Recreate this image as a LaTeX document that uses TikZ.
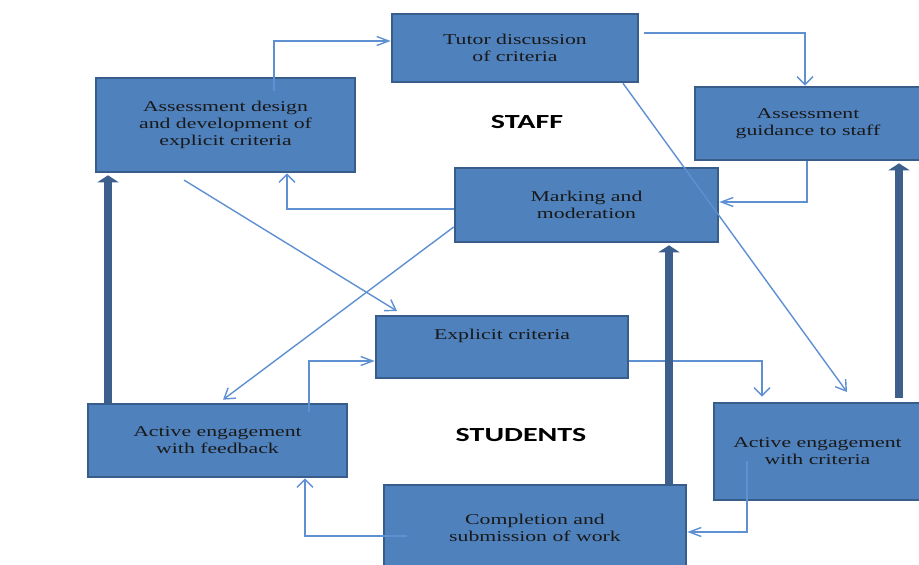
\documentclass[tikz,border=0pt]{standalone}
\usepackage{fontspec}
\setmainfont{Liberation Serif}[FakeStretch=1.45]
\newfontfamily\labfont{Carlito}[FakeStretch=1.5]
\usetikzlibrary{arrows.meta}
\definecolor{boxfill}{HTML}{4F81BD}
\definecolor{boxline}{HTML}{385D8A}
\definecolor{connc}{HTML}{5E90D2}
\definecolor{thickc}{HTML}{3C5F8C}
\tikzset{
  box/.style={draw=boxline, line width=2.6pt, fill=boxfill, inner sep=0pt,
    align=center, font=\fontsize{15}{17}\selectfont, text=black!90},
  conn/.style={draw=connc, line width=1.4pt},
  ha/.style={-{Straight Barb[length=12pt,width=9pt,line width=1.4pt]}},
  va/.style={-{Straight Barb[length=8pt,width=16pt,line width=1.4pt]}},
  da/.style={-{Straight Barb[length=10pt,width=13pt,line width=1.4pt]}},
  thickarr/.style={draw=thickc, line width=8pt, -{Triangle[length=7pt,width=21pt]}, shorten >=2pt},
  grouplabel/.style={font=\labfont\bfseries\fontsize{20}{22}\selectfont, text=black}
}
\begin{document}
\begin{tikzpicture}[x=1pt,y=-1pt]
\useasboundingbox (0,0) rectangle (919,565);
\fill[white] (0,0) rectangle (919,565);

\node[box, minimum width=246pt, minimum height=68pt] (tutor) at (515,48)
  {Tutor discussion\\of criteria};
\node[box, minimum width=259pt, minimum height=94pt] (ad) at (225.5,125)
  {Assessment design\\and development of\\explicit criteria};
\node[box, minimum width=226pt, minimum height=73pt] (guid) at (808,123.5)
  {Assessment\\guidance to staff};
\node[box, minimum width=263pt, minimum height=74pt] (mark) at (586.5,205)
  {Marking and\\moderation};
\node[box, minimum width=252pt, minimum height=62pt] (expl) at (502,347)
  {Explicit criteria\\[3pt]\strut};
\node[box, minimum width=259pt, minimum height=73pt] (fb) at (217.5,440.5)
  {Active engagement\\with feedback};
\node[box, minimum width=207pt, minimum height=97pt] (crit) at (817.5,451.5)
  {Active engagement\\with criteria};
\node[box, minimum width=302pt, minimum height=85pt] (comp) at (535,527.5)
  {Completion and\\submission of work};

\node[grouplabel] (staff) at (527,122) {STAFF};
\node[grouplabel] (students) at (521,435) {STUDENTS};

% thin connectors
\draw[conn,ha,shorten <=-14pt] (ad.north -| 274,0) |- (tutor.west |- 0,41);
\draw[conn,va,shorten <=5pt] (tutor.east |- 0,33) -| (guid.north -| 805,0);
\draw[conn,ha] (guid.south -| 807,0) |- (mark.east |- 0,202);
\draw[conn,va] (mark.west |- 0,209) -| (ad.south -| 287,0);
\coordinate (tc) at (847,392);
\draw[conn,da] (tutor.south -| 623,0) -- (tc);
\draw[conn,da,shorten <=13pt,shorten >=7pt] (ad.south -| 173,0) -- (expl.north -| 403,0);
\draw[conn,da,shorten >=5pt] (mark.west |- 0,227) -- (fb.north -| 219,0);
\draw[conn,ha,shorten <=-9pt] (fb.north -| 309,0) |- (expl.west |- 0,361);
\draw[conn,va,shorten >=5pt] (expl.east |- 0,361) -| (crit.north -| 762,0);
\draw[conn,va,shorten <=-24pt] (comp.west |- 0,536) -| (fb.south -| 305,0);
\draw[conn,ha,shorten <=-40pt] (crit.south -| 747,0) |- (comp.east |- 0,532);

% thick arrows
\draw[thickarr] (fb.north -| 108,0) -- (ad.south -| 108,0);
\draw[thickarr] (comp.north -| 669,0) -- (mark.south -| 669,0);
\draw[thickarr, shorten <=4pt] (crit.north -| 899,0) -- (guid.south -| 899,0);
\end{tikzpicture}
\end{document}
